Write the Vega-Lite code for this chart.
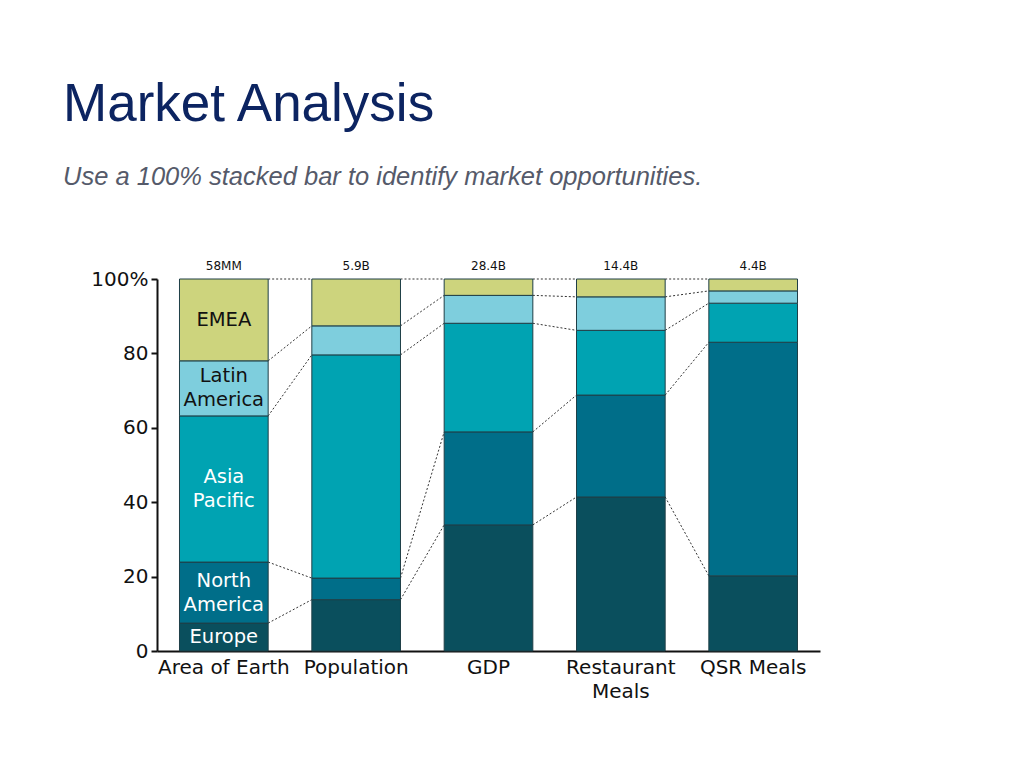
{
  "$schema": "https://vega.github.io/schema/vega-lite/v6.json",
  "autosize": "none",
  "width": 663,
  "height": 372,
  "padding": {"left": 157, "top": 279, "right": 204, "bottom": 117},
  "background": "white",
  "config": {"view": {"stroke": null}},
  "title": {
    "text": "Market Analysis",
    "subtitle": "Use a 100% stacked bar to identify market opportunities.",
    "anchor": "start",
    "frame": "group",
    "dx": -94,
    "font": "Liberation Sans",
    "fontSize": 53,
    "fontWeight": "normal",
    "color": "#0C2461",
    "subtitleFont": "Liberation Sans",
    "subtitleFontSize": 25.5,
    "subtitleFontStyle": "italic",
    "subtitleColor": "#555A6A",
    "subtitlePadding": 33,
    "offset": 70
  },
  "datasets": {
    "shares": [
      {"cat": "Area of Earth", "region": "Europe", "value": 7.5},
      {"cat": "Area of Earth", "region": "North America", "value": 16.4},
      {"cat": "Area of Earth", "region": "Asia Pacific", "value": 39.3},
      {"cat": "Area of Earth", "region": "Latin America", "value": 14.8},
      {"cat": "Area of Earth", "region": "EMEA", "value": 22.0},
      {"cat": "Population", "region": "Europe", "value": 13.8},
      {"cat": "Population", "region": "North America", "value": 5.8},
      {"cat": "Population", "region": "Asia Pacific", "value": 60.0},
      {"cat": "Population", "region": "Latin America", "value": 7.8},
      {"cat": "Population", "region": "EMEA", "value": 12.6},
      {"cat": "GDP", "region": "Europe", "value": 33.9},
      {"cat": "GDP", "region": "North America", "value": 25.0},
      {"cat": "GDP", "region": "Asia Pacific", "value": 29.2},
      {"cat": "GDP", "region": "Latin America", "value": 7.5},
      {"cat": "GDP", "region": "EMEA", "value": 4.4},
      {"cat": "Restaurant Meals", "region": "Europe", "value": 41.4},
      {"cat": "Restaurant Meals", "region": "North America", "value": 27.4},
      {"cat": "Restaurant Meals", "region": "Asia Pacific", "value": 17.4},
      {"cat": "Restaurant Meals", "region": "Latin America", "value": 9.0},
      {"cat": "Restaurant Meals", "region": "EMEA", "value": 4.8},
      {"cat": "QSR Meals", "region": "Europe", "value": 20.2},
      {"cat": "QSR Meals", "region": "North America", "value": 62.8},
      {"cat": "QSR Meals", "region": "Asia Pacific", "value": 10.5},
      {"cat": "QSR Meals", "region": "Latin America", "value": 3.3},
      {"cat": "QSR Meals", "region": "EMEA", "value": 3.2}
    ],
    "totals": [
      {"cat": "Area of Earth", "total": "58MM"},
      {"cat": "Population", "total": "5.9B"},
      {"cat": "GDP", "total": "28.4B"},
      {"cat": "Restaurant Meals", "total": "14.4B"},
      {"cat": "QSR Meals", "total": "4.4B"}
    ]
  },
  "layer": [
    {
      "data": {"name": "shares"},
      "transform": [
        {"stack": "value", "groupby": ["cat"], "as": ["y0", "y1"]},
        {"window": [{"op": "lead", "field": "y1", "as": "ny"}, {"op": "lead", "field": "cat", "as": "ncat"}], "groupby": ["region"], "frame": [null, null]},
        {"filter": "datum.ncat != null"}
      ],
      "mark": {"type": "rule", "stroke": "#333333", "strokeWidth": 1, "strokeDash": [2, 2]},
      "encoding": {
        "x": {"field": "cat", "type": "nominal", "bandPosition": 1, "sort": ["Area of Earth", "Population", "GDP", "Restaurant Meals", "QSR Meals"]},
        "x2": {"field": "ncat", "bandPosition": 0},
        "y": {"field": "y1", "type": "quantitative"},
        "y2": {"field": "ny"}
      }
    },
    {
      "data": {"name": "shares"},
      "transform": [
        {"stack": "value", "groupby": ["cat"], "as": ["y0", "y1"]}
      ],
      "mark": {"type": "bar", "stroke": "#1f3f47", "strokeWidth": 1},
      "encoding": {
        "x": {
          "field": "cat", "type": "nominal",
          "sort": ["Area of Earth", "Population", "GDP", "Restaurant Meals", "QSR Meals"],
          "scale": {"paddingInner": 0.33, "paddingOuter": 0.17},
          "axis": {
            "title": null, "ticks": false, "labelAngle": 0,
            "labelAlign": "center", "labelBaseline": "top",
            "labelFont": "DejaVu Sans", "labelFontSize": 20, "labelColor": "#111111",
            "labelPadding": 6, "labelLineHeight": 24,
            "domainColor": "#111111", "domainWidth": 2,
            "labelExpr": "datum.value == 'Restaurant Meals' ? ['Restaurant', 'Meals'] : datum.label"
          }
        },
        "y": {
          "field": "y1", "type": "quantitative",
          "scale": {"domain": [0, 100], "nice": false},
          "axis": {
            "title": null, "values": [0, 20, 40, 60, 80, 100], "grid": false,
            "labelFont": "DejaVu Sans", "labelFontSize": 20, "labelColor": "#111111",
            "tickSize": 6, "tickColor": "#111111", "tickWidth": 2, "labelPadding": 3,
            "domainColor": "#111111", "domainWidth": 2,
            "labelExpr": "datum.value == 100 ? '100%' : datum.label"
          }
        },
        "y2": {"field": "y0"},
        "color": {
          "field": "region", "type": "nominal", "legend": null,
          "scale": {
            "domain": ["Europe", "North America", "Asia Pacific", "Latin America", "EMEA"],
            "range": ["#0A4F5D", "#006E89", "#00A3B2", "#7ECEDD", "#CDD47D"]
          }
        }
      }
    },
    {
      "data": {"name": "shares"},
      "transform": [
        {"stack": "value", "groupby": ["cat"], "as": ["y0", "y1"]},
        {"filter": "datum.cat == 'Area of Earth' && (datum.region == 'EMEA' || datum.region == 'Europe')"},
        {"calculate": "(datum.y0 + datum.y1) / 2", "as": "mid"}
      ],
      "mark": {"type": "text", "font": "DejaVu Sans", "fontSize": 19.5, "baseline": "middle", "align": "center"},
      "encoding": {
        "x": {"field": "cat", "type": "nominal", "sort": ["Area of Earth", "Population", "GDP", "Restaurant Meals", "QSR Meals"]},
        "y": {"field": "mid", "type": "quantitative"},
        "text": {"field": "region", "type": "nominal"},
        "color": {
          "condition": {"test": "datum.region == 'EMEA'", "value": "#111111"},
          "value": "#ffffff"
        }
      }
    },
    {
      "data": {"name": "shares"},
      "transform": [
        {"stack": "value", "groupby": ["cat"], "as": ["y0", "y1"]},
        {"filter": "datum.cat == 'Area of Earth' && datum.region != 'EMEA' && datum.region != 'Europe'"},
        {"calculate": "(datum.y0 + datum.y1) / 2", "as": "mid"}
      ],
      "mark": {"type": "text", "font": "DejaVu Sans", "fontSize": 19.5, "lineBreak": " ", "lineHeight": 24, "baseline": "middle", "align": "center", "dy": -12},
      "encoding": {
        "x": {"field": "cat", "type": "nominal", "sort": ["Area of Earth", "Population", "GDP", "Restaurant Meals", "QSR Meals"]},
        "y": {"field": "mid", "type": "quantitative"},
        "text": {"field": "region", "type": "nominal"},
        "color": {
          "condition": {"test": "datum.region == 'Latin America'", "value": "#111111"},
          "value": "#ffffff"
        }
      }
    },
    {
      "data": {"name": "totals"},
      "mark": {"type": "text", "font": "DejaVu Sans", "fontSize": 12, "baseline": "bottom", "dy": -6, "color": "#111111"},
      "encoding": {
        "x": {"field": "cat", "type": "nominal", "sort": ["Area of Earth", "Population", "GDP", "Restaurant Meals", "QSR Meals"]},
        "y": {"datum": 100, "type": "quantitative"},
        "text": {"field": "total", "type": "nominal"}
      }
    }
  ]
}
